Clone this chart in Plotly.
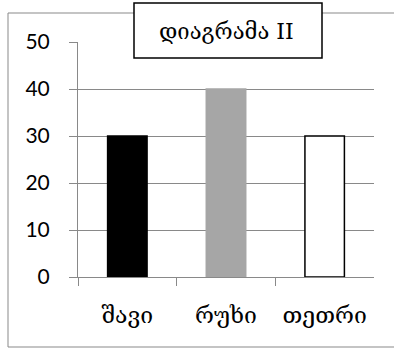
import plotly.graph_objects as go

# Chart data
categories = ["შავი", "რუხი", "თეთრი"]
values = [30, 40, 30]
bar_fills = ["#000000", "#A6A6A6", "#FFFFFF"]
bar_edges = ["#000000", "#A6A6A6", "#000000"]
title_text = "დიაგრამა II"
y_ticks = [0, 10, 20, 30, 40, 50]

W, H = 394, 349
GRAY = "#898989"
GEO_FONT = "DejaVu Serif, DejaVu Sans, serif"
NUM_FONT = "Lato, Open Sans, sans-serif"


def px(x):
    return x / W


def py(y):
    return 1 - y / H


fig = go.Figure(
    go.Bar(
        x=categories,
        y=values,
        width=0.4,
        marker=dict(color=bar_fills, line=dict(color=bar_edges, width=1.5)),
    )
)

fig.update_layout(
    width=W,
    height=H,
    autosize=False,
    margin=dict(l=0, r=0, t=0, b=0, pad=0),
    paper_bgcolor="white",
    plot_bgcolor="white",
    showlegend=False,
    xaxis=dict(
        domain=[px(78), px(374)],
        type="category",
        tickson="boundaries",
        ticks="outside",
        ticklen=8,
        tickcolor=GRAY,
        tickwidth=1,
        showline=True,
        linecolor=GRAY,
        linewidth=1,
        showgrid=False,
        automargin=False,
        tickfont=dict(family=GEO_FONT, size=23, color="#000"),
        ticklabelstandoff=17,
    ),
    yaxis=dict(
        domain=[py(277), py(42)],
        range=[0, 50],
        tickvals=y_ticks,
        ticks="outside",
        ticklen=8,
        tickcolor=GRAY,
        tickwidth=1,
        showline=True,
        linecolor=GRAY,
        linewidth=1,
        showgrid=True,
        gridcolor=GRAY,
        gridwidth=1,
        zeroline=False,
        automargin=False,
        tickfont=dict(family=NUM_FONT, size=21, color="#000"),
        ticklabelstandoff=15,
    ),
)

# Outer chart frame
fig.add_shape(
    type="rect", xref="paper", yref="paper",
    x0=px(8), x1=px(400), y0=py(347), y1=py(13),
    line=dict(color=GRAY, width=1), fillcolor="rgba(0,0,0,0)", layer="below",
)

# Boxed title
fig.add_shape(
    type="rect", xref="paper", yref="paper",
    x0=px(134), x1=px(322), y0=py(58), y1=py(3),
    line=dict(color="#000", width=1.5), fillcolor="white", layer="above",
)
fig.add_annotation(
    text=title_text, xref="paper", yref="paper",
    x=px(226), y=py(31), xanchor="center", yanchor="middle",
    showarrow=False, font=dict(family=GEO_FONT, size=22, color="#000"),
)

fig.write_html("out.html")
